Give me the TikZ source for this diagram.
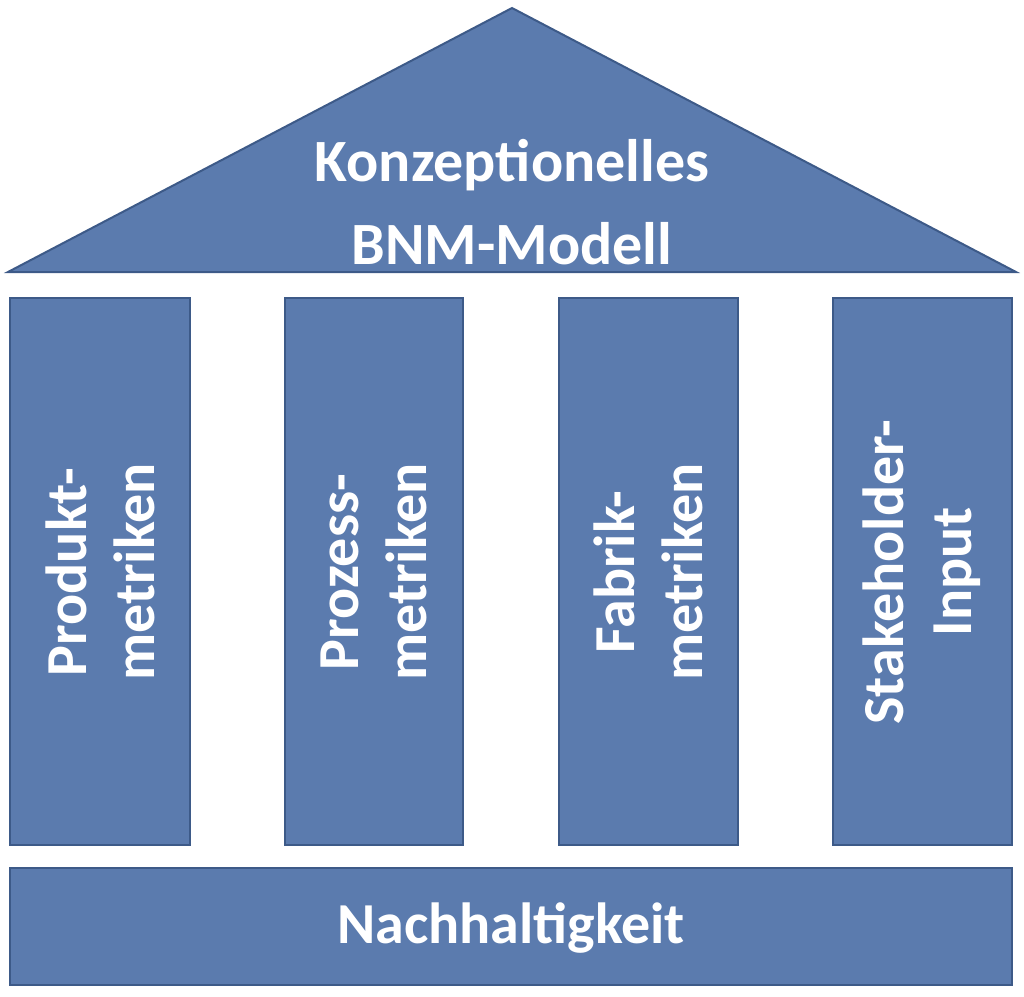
\documentclass[tikz,border=0pt]{standalone}
\usepackage{fontspec}
\setmainfont{Carlito}
\begin{document}
\begin{tikzpicture}[x=1pt,y=-1pt,
  blk/.style={fill=blockfill,draw=blockline,line width=2pt},
  txt/.style={text=white,font=\bfseries\fontsize{58}{68}\selectfont,align=center}]
\definecolor{blockfill}{HTML}{5B7BAE}
\definecolor{blockline}{HTML}{3D5A88}
\useasboundingbox (0,0) rectangle (1024,996);
\draw[blk] (512,8) -- (1016,272) -- (8,272) -- cycle;
\node[txt,font=\bfseries\fontsize{60}{83}\selectfont] (roof) at (512,202) {Konzeptionelles\\BNM-Modell};
\draw[blk] (10,298) rectangle (190,845);
\draw[blk] (285,298) rectangle (463,845);
\draw[blk] (559,298) rectangle (738,845);
\draw[blk] (833,298) rectangle (1012,845);
\node[txt,rotate=90] (c1) at (100,572) {Produkt-\\metriken};
\node[txt,rotate=90] (c2) at (374,572) {Prozess-\\metriken};
\node[txt,rotate=90] (c3) at (648,572) {Fabrik-\\metriken};
\node[txt,rotate=90] (c4) at (922,572) {Stakeholder-\\Input};
\draw[blk] (10,868) rectangle (1012,985);
\node[txt] (base) at (511,928) {Nachhaltigkeit};
\end{tikzpicture}
\end{document}
